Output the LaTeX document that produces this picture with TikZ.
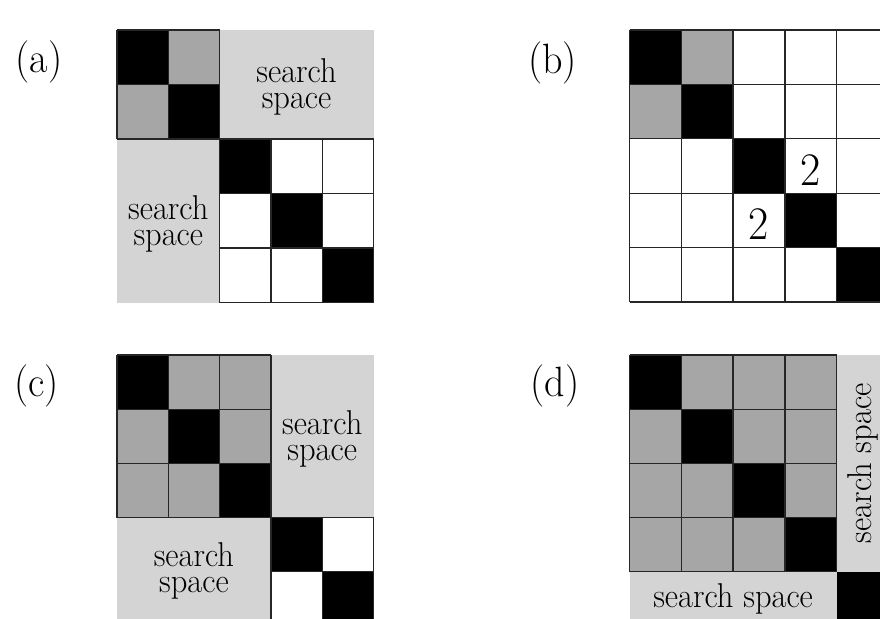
\documentclass[tikz,border=0pt]{standalone}
\definecolor{midgray}{HTML}{A6A6A6}
\definecolor{ltgray}{HTML}{D4D4D4}
\tikzset{
  gridln/.style={draw=black!85, line width=1.3pt},
  sstext/.style={font=\fontsize{32.5}{24.6}\selectfont, align=center, inner sep=0pt, yscale=1.06},
  sstextr/.style={font=\fontsize{32.5}{24.6}\selectfont, align=center, inner sep=0pt, xscale=1.06},
  lbl/.style={font=\fontsize{40}{44}\selectfont, inner sep=0pt, yscale=1.06},
  num/.style={font=\fontsize{44}{48}\selectfont, inner sep=0pt, yscale=1.06},
}
\begin{document}
\begin{tikzpicture}[x=1pt,y=-1pt]
\useasboundingbox (0,0) rectangle (880,618);
\clip (0,0) rectangle (880,618);
\fill[white] (0,0) rectangle (880,618);

% labels
\node[lbl] (la) at (39,62) {(a)};
\node[lbl] (lb) at (552.5,62.5) {(b)};
\node[lbl] (lc) at (36.7,386) {(c)};
\node[lbl] (ld) at (555,386) {(d)};

% ---------- panel (a)
\begin{scope}[xshift=117pt, yshift=-30pt, x=51.3pt, y=-54.5pt]
  \fill[ltgray] (2,0) rectangle (5,2);
  \fill[ltgray] (0,2) rectangle (2,5);
  \fill[black] (0,0) rectangle (1,1);
  \fill[black] (1,1) rectangle (2,2);
  \fill[midgray] (1,0) rectangle (2,1);
  \fill[midgray] (0,1) rectangle (1,2);
  \fill[white] (2,2) rectangle (5,5);
  \foreach \i in {2,3,4} \fill[black] (\i,\i) rectangle (\i+1,\i+1);
  \foreach \i in {0,1,2} {
    \draw[gridln] (\i,0) -- (\i,2);
    \draw[gridln] (0,\i) -- (2,\i);
  }
  \foreach \i in {2,3,4,5} {
    \draw[gridln] (\i,2) -- (\i,5);
    \draw[gridln] (2,\i) -- (5,\i);
  }
  \node[sstext] (atop) at (3.5,1.05) {search\\space};
  \node[sstext] (aleft) at (1,3.55) {search\\space};
\end{scope}

% ---------- panel (b)
\begin{scope}[xshift=629.5pt, yshift=-30pt, x=51.8pt, y=-54.4pt]
  \fill[white] (0,0) rectangle (5,5);
  \foreach \i in {0,...,4} \fill[black] (\i,\i) rectangle (\i+1,\i+1);
  \fill[midgray] (1,0) rectangle (2,1);
  \fill[midgray] (0,1) rectangle (1,2);
  \foreach \i in {0,...,5} {
    \draw[gridln] (\i,0) -- (\i,5);
    \draw[gridln] (0,\i) -- (5,\i);
  }
  \node[num] (b23) at (3.5,2.57) {2};
  \node[num] (b32) at (2.5,3.57) {2};
\end{scope}

% ---------- panel (c)
\begin{scope}[xshift=117pt, yshift=-355pt, x=51.3pt, y=-54.2pt]
  \fill[ltgray] (3,0) rectangle (5,3);
  \fill[ltgray] (0,3) rectangle (3,5);
  \fill[midgray] (0,0) rectangle (3,3);
  \foreach \i in {0,1,2} \fill[black] (\i,\i) rectangle (\i+1,\i+1);
  \fill[white] (3,3) rectangle (5,5);
  \foreach \i in {3,4} \fill[black] (\i,\i) rectangle (\i+1,\i+1);
  \foreach \i in {0,...,3} {
    \draw[gridln] (\i,0) -- (\i,3);
    \draw[gridln] (0,\i) -- (3,\i);
  }
  \foreach \i in {3,4,5} {
    \draw[gridln] (\i,3) -- (\i,5);
    \draw[gridln] (3,\i) -- (5,\i);
  }
  \node[sstext] (ctop) at (4,1.55) {search\\space};
  \node[sstext] (cbot) at (1.5,3.98) {search\\space};
\end{scope}

% ---------- panel (d)
\begin{scope}[xshift=629.5pt, yshift=-355pt, x=51.8pt, y=-54.2pt]
  \fill[ltgray] (4,0) rectangle (5,4);
  \fill[ltgray] (0,4) rectangle (4,5);
  \fill[midgray] (0,0) rectangle (4,4);
  \foreach \i in {0,...,4} \fill[black] (\i,\i) rectangle (\i+1,\i+1);
  \foreach \i in {0,...,4} {
    \draw[gridln] (\i,0) -- (\i,4);
    \draw[gridln] (0,\i) -- (4,\i);
  }
  \node[sstextr, rotate=90] (dright) at (4.5,2) {search space};
  \node[sstext] (dbot) at (2,4.5) {search space};
\end{scope}
\end{tikzpicture}
\end{document}
